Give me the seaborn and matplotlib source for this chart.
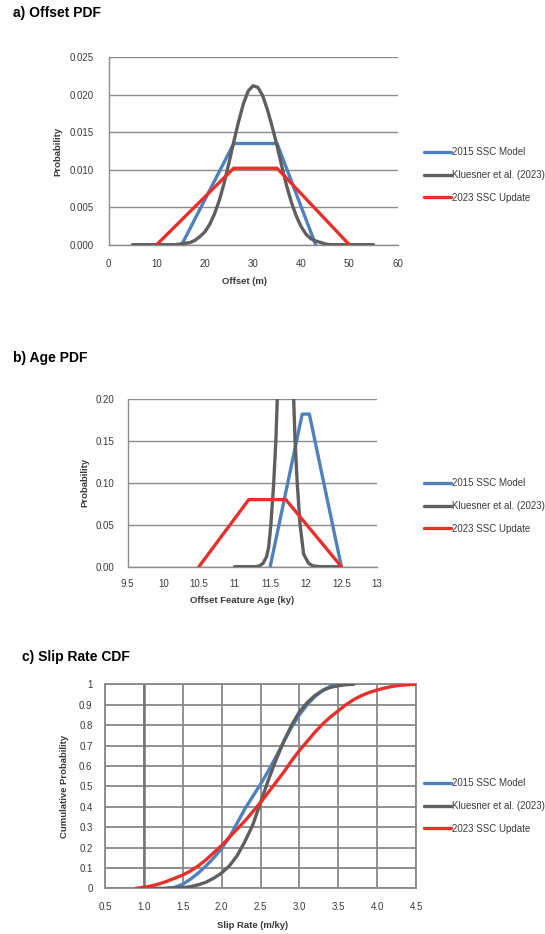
import matplotlib
matplotlib.use("Agg")
import matplotlib.pyplot as plt
from matplotlib.lines import Line2D
import numpy as np
import pandas as pd
import seaborn as sns

# ---------------- data ----------------
series_names = ["2015 SSC Model", "Kluesner et al. (2023)", "2023 SSC Update"]
series_colors = ["#4f81bd", "#5f5f5f", "#e8302a"]

# a) Offset PDF
offset_2015_x = [15.2, 26.0, 35.0, 43.0]
offset_2015_y = [0.0, 0.0135, 0.0135, 0.0]
offset_klu_x = [5, 10, 14, 15, 16, 17, 18, 19, 20, 21, 22, 23, 24, 25, 26, 27, 28, 29, 30,
                31, 32, 33, 34, 35, 36, 37, 38, 39, 40, 41, 42, 43, 44, 45, 46, 50, 55]
offset_klu_y = [0.0, 0.0, 0.0, 0.0001, 0.0002, 0.0003, 0.0006, 0.0011, 0.0017, 0.0027,
                0.0041, 0.0059, 0.0082, 0.0109, 0.0137, 0.0164, 0.0188, 0.0205, 0.0212,
                0.0210, 0.0199, 0.0180, 0.0157, 0.0132, 0.0104, 0.0078, 0.0056, 0.0038,
                0.0024, 0.0014, 0.0008, 0.0005, 0.0003, 0.0001, 0.0, 0.0, 0.0]
offset_2023_x = [10.0, 26.0, 35.0, 50.0]
offset_2023_y = [0.0, 0.0102, 0.0102, 0.0]

# b) Age PDF
age_2015_x = [11.5, 11.95, 12.05, 12.5]
age_2015_y = [0.0, 0.182, 0.182, 0.0]
age_klu_x = [11.0, 11.3, 11.35, 11.4, 11.45, 11.48, 11.51, 11.55, 11.58, 11.6, 11.65, 11.72,
             11.78, 11.83, 11.85, 11.88, 11.92, 11.97, 12.04, 12.1, 12.2, 12.5]
age_klu_y = [0.0, 0.0, 0.001, 0.004, 0.012, 0.024, 0.05, 0.10, 0.15, 0.20, 0.28, 0.32,
             0.28, 0.20, 0.15, 0.10, 0.05, 0.015, 0.004, 0.001, 0.0, 0.0]
age_2023_x = [10.5, 11.2, 11.72, 12.5]
age_2023_y = [0.0, 0.08, 0.08, 0.0]

# c) Slip Rate CDF
slip_2015_x = [1.30, 1.40, 1.50, 1.60, 1.70, 1.80, 1.90, 2.00, 2.10, 2.20, 2.30, 2.40,
               2.50, 2.60, 2.70, 2.80, 2.90, 3.00, 3.10, 3.20, 3.30, 3.40, 3.50, 3.60]
slip_2015_y = [0.0, 0.005, 0.02, 0.045, 0.075, 0.11, 0.15, 0.195, 0.25, 0.32, 0.39, 0.45,
               0.51, 0.575, 0.645, 0.72, 0.79, 0.85, 0.90, 0.94, 0.97, 0.99, 1.0, 1.0]
slip_klu_x = [1.0, 1.25, 1.5, 1.6, 1.7, 1.8, 1.9, 2.0, 2.1, 2.2, 2.3, 2.4, 2.5, 2.6, 2.7,
              2.8, 2.9, 3.0, 3.1, 3.2, 3.3, 3.4, 3.5, 3.6, 3.7]
slip_klu_y = [0.0, 0.0, 0.003, 0.008, 0.017, 0.03, 0.05, 0.075, 0.11, 0.16, 0.23, 0.31,
              0.42, 0.53, 0.63, 0.72, 0.80, 0.865, 0.91, 0.945, 0.97, 0.985, 0.993, 0.998, 1.0]
slip_2023_x = [0.9, 1.0, 1.1, 1.2, 1.3, 1.4, 1.5, 1.6, 1.7, 1.8, 1.9, 2.0, 2.1, 2.2, 2.3,
               2.4, 2.5, 2.6, 2.7, 2.8, 2.9, 3.0, 3.1, 3.2, 3.3, 3.4, 3.5, 3.6, 3.7, 3.8,
               3.9, 4.0, 4.1, 4.2, 4.3, 4.4, 4.5]
slip_2023_y = [0.0, 0.005, 0.012, 0.022, 0.035, 0.05, 0.065, 0.085, 0.11, 0.14, 0.175,
               0.21, 0.25, 0.29, 0.33, 0.375, 0.42, 0.47, 0.52, 0.57, 0.625, 0.675, 0.72,
               0.765, 0.805, 0.84, 0.87, 0.90, 0.925, 0.945, 0.96, 0.972, 0.982, 0.99,
               0.995, 0.998, 1.0]

offset_xticks = [0, 10, 20, 30, 40, 50, 60]
offset_yticks = [0.0, 0.005, 0.010, 0.015, 0.020, 0.025]
age_xticks = [9.5, 10, 10.5, 11, 11.5, 12, 12.5, 13]
age_xticklabels = ["9.5", "10", "10.5", "11", "11.5", "12", "12.5", "13"]
age_yticks = [0.0, 0.05, 0.10, 0.15, 0.20]
slip_xticks = [0.5, 1.0, 1.5, 2.0, 2.5, 3.0, 3.5, 4.0, 4.5]
slip_yticks = [0.0, 0.1, 0.2, 0.3, 0.4, 0.5, 0.6, 0.7, 0.8, 0.9, 1.0]
slip_yticklabels = ["0", "0.1", "0.2", "0.3", "0.4", "0.5", "0.6", "0.7", "0.8", "0.9", "1"]


def long_df(parts):
    rows = []
    for name, xs, ys in parts:
        for x, y in zip(xs, ys):
            rows.append({"x": x, "y": y, "series": name})
    return pd.DataFrame(rows)


# ---------------- style ----------------
sns.set_style("white")
plt.rcParams["font.family"] = ["Liberation Sans", "DejaVu Sans"]
GRID = "#8c8c8c"
TXT = "#3a3a3a"
W, H = 545, 934

fig = plt.figure(figsize=(W / 100, H / 100), dpi=100)


def px_axes(x0, x1, ytop, ybot):
    return fig.add_axes([x0 / W, 1 - ybot / H, (x1 - x0) / W, (ybot - ytop) / H])


ax_a = px_axes(108.5, 397.5, 57.3, 244.7)
ax_b = px_axes(127.7, 377.0, 399.0, 566.7)
ax_c = px_axes(105.0, 416.0, 684.3, 888.3)

dfs = [
    long_df([(series_names[0], offset_2015_x, offset_2015_y),
             (series_names[1], offset_klu_x, offset_klu_y),
             (series_names[2], offset_2023_x, offset_2023_y)]),
    long_df([(series_names[0], age_2015_x, age_2015_y),
             (series_names[1], age_klu_x, age_klu_y),
             (series_names[2], age_2023_x, age_2023_y)]),
    long_df([(series_names[0], slip_2015_x, slip_2015_y),
             (series_names[1], slip_klu_x, slip_klu_y),
             (series_names[2], slip_2023_x, slip_2023_y)]),
]

for ax, df in zip([ax_a, ax_b, ax_c], dfs):
    sns.lineplot(data=df, x="x", y="y", hue="series", hue_order=series_names,
                 palette=series_colors, estimator=None, sort=False, linewidth=2.4,
                 legend=False, ax=ax, zorder=3)
    ax.set_axisbelow(True)
    for s in ["top", "right"]:
        ax.spines[s].set_visible(False)
    for s in ["left", "bottom"]:
        ax.spines[s].set_color(GRID)
        ax.spines[s].set_linewidth(1.0)
    ax.yaxis.grid(True, color=GRID, linewidth=1.0)
    ax.tick_params(axis="both", direction="out", color=GRID, width=0.9,
                   labelsize=7, labelcolor=TXT)

# panel a
ax_a.set_xlim(0, 60)
ax_a.set_ylim(0, 0.025)
ax_a.set_xticks(offset_xticks)
ax_a.set_yticks(offset_yticks)
ax_a.set_yticklabels([f"{v:.3f}" for v in offset_yticks])
ax_a.tick_params(axis="y", length=2.5, pad=8)
ax_a.tick_params(axis="x", length=3, pad=7)
ax_a.xaxis.grid(False)
ax_a.set_xlabel("Offset (m)")
ax_a.set_ylabel("Probability")
ax_a.xaxis.set_label_coords(0.472, -0.199)
ax_a.yaxis.set_label_coords(-0.175, 0.5)

# panel b
ax_b.set_xlim(9.5, 13)
ax_b.set_ylim(0, 0.20)
ax_b.set_xticks(age_xticks)
ax_b.set_xticklabels(age_xticklabels)
ax_b.set_yticks(age_yticks)
ax_b.set_yticklabels([f"{v:.2f}" for v in age_yticks])
ax_b.tick_params(axis="y", length=2.5, pad=7)
ax_b.tick_params(axis="x", length=3, pad=6)
ax_b.xaxis.grid(False)
ax_b.set_xlabel("Offset Feature Age (ky)")
ax_b.set_ylabel("Probability")
ax_b.xaxis.set_label_coords(0.458, -0.2045)
ax_b.yaxis.set_label_coords(-0.171, 0.5)

# panel c
ax_c.set_xlim(0.5, 4.5)
ax_c.set_ylim(0, 1)
ax_c.set_xticks(slip_xticks)
ax_c.set_xticklabels([f"{v:.1f}" for v in slip_xticks])
ax_c.set_yticks(slip_yticks)
ax_c.set_yticklabels(slip_yticklabels)
ax_c.yaxis.grid(True, color="#888888", linewidth=1.3)
ax_c.xaxis.grid(True, color="#888888", linewidth=1.3)
ax_c.axvline(1.0, color="#767676", linewidth=1.8, zorder=2)
ax_c.spines["top"].set_visible(True)
ax_c.spines["right"].set_visible(True)
for s in ["top", "right", "left", "bottom"]:
    ax_c.spines[s].set_color("#888888")
    ax_c.spines[s].set_linewidth(1.3)
ax_c.tick_params(axis="y", length=5, pad=4)
ax_c.tick_params(axis="x", length=4, pad=6)
ax_c.set_xlabel("Slip Rate (m/ky)")
ax_c.set_ylabel("Cumulative Probability")
ax_c.xaxis.set_label_coords(0.473, -0.18)
ax_c.yaxis.set_label_coords(-0.129, 0.5)

for ax in [ax_a, ax_b, ax_c]:
    for lab in [ax.xaxis.label, ax.yaxis.label]:
        lab.set_fontsize(6.8)
        lab.set_fontweight("bold")
        lab.set_color(TXT)
        lab.set_va("center")

# legends
handles = [Line2D([0], [0], color=c, linewidth=2.4) for c in series_colors]
for yc in [175, 506, 806]:
    fig.legend(handles, series_names, loc="center left",
               bbox_to_anchor=(424 / W, 1 - yc / H), frameon=False, fontsize=7,
               handlelength=2.8, handletextpad=0.05, labelspacing=1.3,
               borderpad=0, borderaxespad=0, labelcolor=TXT)

# panel titles
for txt, xp, yp in [("a) Offset PDF", 13, 13), ("b) Age PDF", 13, 358),
                    ("c) Slip Rate CDF", 21.7, 657)]:
    fig.text(xp / W, 1 - yp / H, txt, fontsize=10, fontweight="bold",
             ha="left", va="center", color="black")

fig.savefig("out.png", dpi=100)
